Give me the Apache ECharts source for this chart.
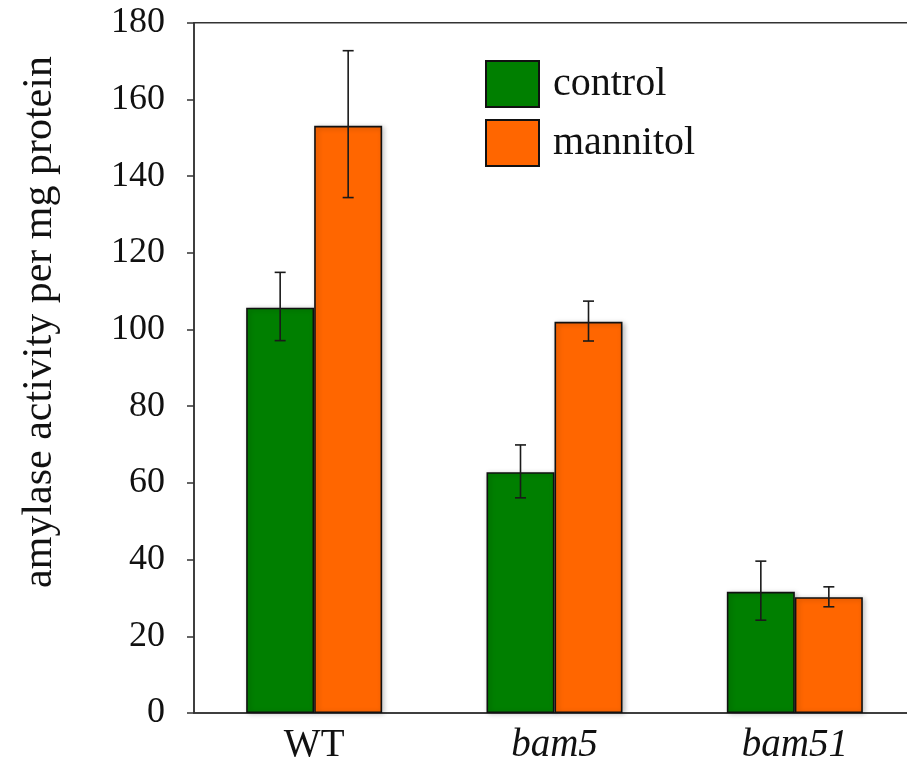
<!DOCTYPE html>
<html>
<head>
<meta charset="utf-8">
<script src="https://cdn.jsdelivr.net/npm/echarts@6/dist/echarts.min.js"></script>
<style>html,body{margin:0;padding:0;background:#fff;}#chart{width:907px;height:771px;}</style>
</head>
<body>
<div id="chart"></div>
<script>
const categories = ['WT', 'bam5', 'bam51'];
const italicCategory = [false, true, true];
const seriesNames = ['control', 'mannitol'];
const controlValues = [105.7, 62.8, 31.6];
const mannitolValues = [153.1, 102.0, 30.2];
const controlErrLow = [97.1, 56.1, 24.2];
const controlErrHigh = [114.9, 69.9, 39.6];
const mannitolErrLow = [134.4, 97.0, 27.7];
const mannitolErrHigh = [172.7, 107.4, 32.9];
const yMin = 0, yMax = 180, yInterval = 20;
const yName = 'amylase activity per mg protein';

const FONT = '"Liberation Serif", "Times New Roman", serif';
const BAR_W = 68;
const colors = ['#007f00', '#ff6600'];

function errData(lo, hi) {
  return categories.map((c, i) => [i, lo[i], hi[i]]);
}
function errRender(offset) {
  return function (params, api) {
    const i = api.value(0);
    const pLo = api.coord([i, api.value(1)]);
    const pHi = api.coord([i, api.value(2)]);
    const x = pLo[0] + offset;
    const cap = 5.5;
    const st = { stroke: '#1a1a1a', lineWidth: 1.6 };
    return {
      type: 'group',
      children: [
        { type: 'line', shape: { x1: x, y1: pLo[1], x2: x, y2: pHi[1] }, style: st },
        { type: 'line', shape: { x1: x - cap, y1: pLo[1], x2: x + cap, y2: pLo[1] }, style: st },
        { type: 'line', shape: { x1: x - cap, y1: pHi[1], x2: x + cap, y2: pHi[1] }, style: st }
      ]
    };
  };
}

const barItemStyle = (c) => ({
  color: c, borderColor: '#111', borderWidth: 1.6,
  shadowBlur: 5, shadowColor: 'rgba(0,0,0,0.25)', shadowOffsetX: 2, shadowOffsetY: 1
});

const chart = echarts.init(document.getElementById('chart'));
chart.setOption({
  animation: false,
  backgroundColor: '#fff',
  grid: { left: 194, width: 721, top: 22.7, height: 690.3, outerBoundsMode: 'none', containLabel: false, show: true, borderColor: '#333', borderWidth: 1.5, backgroundColor: 'transparent' },
  legend: {
    data: seriesNames,
    orient: 'vertical', left: 485, top: 60, padding: 0,
    itemWidth: 53, itemHeight: 46, itemGap: 11,
    icon: 'rect',
    textStyle: { fontFamily: FONT, fontSize: 40, color: '#111', padding: [0, 0, 0, 9] }
  },
  xAxis: {
    type: 'category',
    data: categories.map((c, i) => ({ value: c, textStyle: { fontStyle: italicCategory[i] ? 'italic' : 'normal' } })),
    axisLine: { show: true, lineStyle: { color: '#333', width: 1.5 } },
    axisTick: { show: false },
    axisLabel: { fontFamily: FONT, fontSize: 39, color: '#111', margin: 13 }
  },
  yAxis: {
    type: 'value', min: yMin, max: yMax, interval: yInterval,
    splitLine: { show: false },
    axisLine: { show: true, lineStyle: { color: '#333', width: 1.5 } },
    axisTick: { show: true, inside: false, length: 7, lineStyle: { color: '#333', width: 1.5 } },
    axisLabel: { fontFamily: FONT, fontSize: 36, color: '#111', margin: 29 }
  },
  graphic: [{
    type: 'text', x: 40, y: 322, rotation: Math.PI / 2,
    style: { text: yName, font: '42px ' + FONT, fill: '#111', align: 'center', verticalAlign: 'middle' }
  }],
  series: [
    { name: seriesNames[0], type: 'bar', data: controlValues, barWidth: BAR_W, barGap: '0%', itemStyle: barItemStyle(colors[0]) },
    { name: seriesNames[1], type: 'bar', data: mannitolValues, barWidth: BAR_W, barGap: '0%', itemStyle: barItemStyle(colors[1]) },
    { type: 'custom', renderItem: errRender(-BAR_W / 2), data: errData(controlErrLow, controlErrHigh), z: 10 },
    { type: 'custom', renderItem: errRender(BAR_W / 2), data: errData(mannitolErrLow, mannitolErrHigh), z: 10 }
  ]
});
</script>
</body>
</html>
